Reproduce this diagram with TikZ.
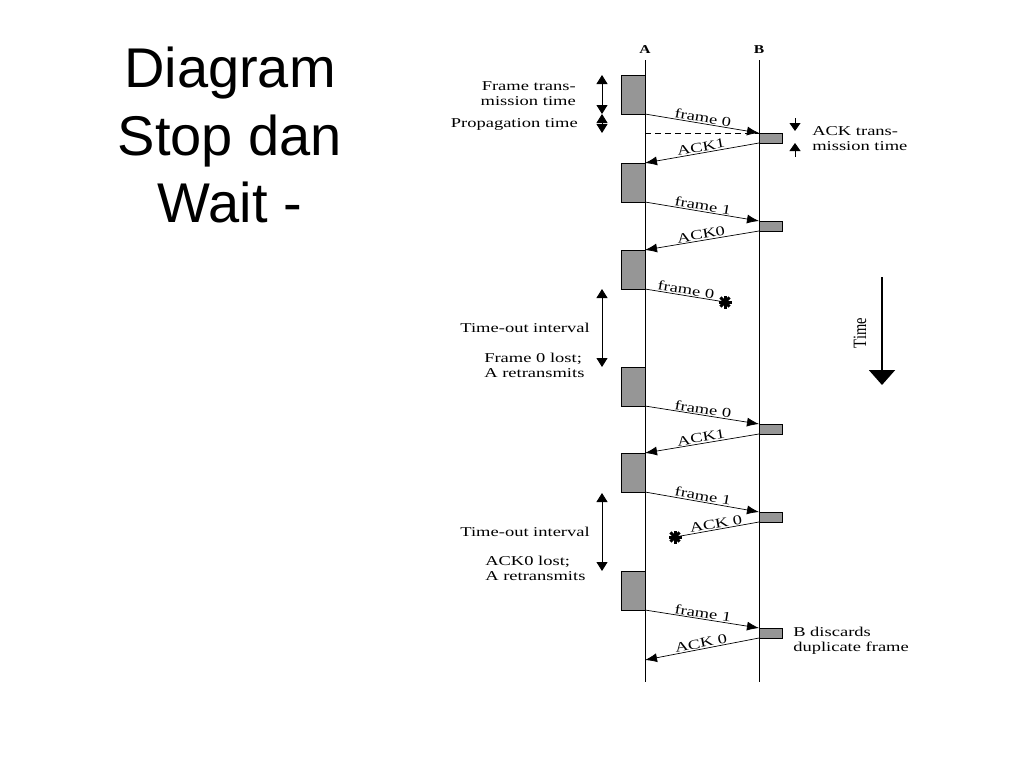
\documentclass[tikz,border=0pt]{standalone}
\usepackage{fontspec}
\setmainfont{Liberation Serif}
\newfontfamily\titlefont{Liberation Sans}
\usetikzlibrary{arrows.meta}
\definecolor{boxgray}{RGB}{150,150,150}
\begin{document}
\begin{tikzpicture}[x=1pt,y=-1pt,
  lbl/.style={font=\fontsize{13.5}{15}\selectfont, xscale=1.37, inner sep=0pt},
  hdr/.style={font=\fontsize{12}{14}\selectfont\bfseries, xscale=1.3, inner sep=0pt, anchor=base},
  ttl/.style={font=\titlefont\fontsize{56}{67}\selectfont, inner sep=0pt, anchor=base},
  fbox/.style={draw, fill=boxgray, line width=0.8pt, minimum width=24pt, minimum height=39pt, inner sep=0pt, outer sep=0pt, anchor=north east},
  abox/.style={draw, fill=boxgray, line width=0.8pt, minimum width=23pt, minimum height=10pt, inner sep=0pt, outer sep=0pt, anchor=north west},
  msg/.style={line width=0.7pt, -{Latex[length=12pt,width=9pt]}},
  lostmsg/.style={line width=0.7pt},
  dim/.style={line width=0.9pt, {Triangle[length=9pt,width=11pt]}-{Triangle[length=9pt,width=11pt]}},
  tick/.style={line width=0.9pt, -{Triangle[length=8pt,width=11pt]}},
  lifeline/.style={line width=1pt},
  mlbl/.style={lbl, sloped, above, inner sep=1pt, midway},
  star/.style={line width=3pt},
]
\useasboundingbox (0,0) rectangle (1024,768);

% title
\node[ttl] (title1) at (230,87) {Diagram};
\node[ttl] (title2) at (230,155) {Stop dan};
\node[ttl] (title3) at (230,222) {Wait -};

% lifelines
\coordinate (Atop) at (645,60); \coordinate (Abot) at (645,682);
\coordinate (Btop) at (759,60); \coordinate (Bbot) at (759,682);
\draw[lifeline] (Atop) -- (Abot);
\draw[lifeline] (Btop) -- (Bbot);
\node[hdr] (hA) at (645,53) {A};
\node[hdr] (hB) at (759,53) {B};

% frame boxes at A
\node[fbox] (f1) at (645,75) {};
\node[fbox] (f2) at (645,163) {};
\node[fbox] (f3) at (645,250) {};
\node[fbox] (f4) at (645,367) {};
\node[fbox] (f5) at (645,453) {};
\node[fbox] (f6) at (645,571) {};

% ack boxes at B
\node[abox] (a1) at (759,133) {};
\node[abox] (a2) at (759,221) {};
\node[abox] (a3) at (759,424) {};
\node[abox] (a4) at (759,512) {};
\node[abox] (a5) at (759,628) {};

% loss points and end point
\coordinate (s1) at (725,302);
\coordinate (s2) at (675,537);
\coordinate (e6) at (645,660);

% messages
\draw[msg] (f1.south east) -- node[mlbl] {frame 0} (a1.north west);
\draw[msg] (a1.south west) -- node[mlbl] {ACK1} (f2.north east);
\draw[msg] (f2.south east) -- node[mlbl] {frame 1} (a2.north west);
\draw[msg] (a2.south west) -- node[mlbl] {ACK0} (f3.north east);
\draw[lostmsg] (f3.south east) -- node[mlbl] {frame 0} (s1);
\draw[msg] (f4.south east) -- node[mlbl] {frame 0} (a3.north west);
\draw[msg] (a3.south west) -- node[mlbl] {ACK1} (f5.north east);
\draw[msg] (f5.south east) -- node[mlbl] {frame 1} (a4.north west);
\draw[lostmsg] (a4.south west) -- node[mlbl] {ACK 0} (s2);
\draw[msg] (f6.south east) -- node[mlbl] {frame 1} (a5.north west);
\draw[msg] (a5.south west) -- node[mlbl] {ACK 0} (e6);

% loss asterisks
\foreach \a in {0,45,90,135} {
  \draw[star, shift={(s1)}] (\a:6.5) -- (\a+180:6.5);
  \draw[star, shift={(s2)}] (\a:6.5) -- (\a+180:6.5);
}
\fill (s1) circle (3.5pt);
\fill (s2) circle (3.5pt);

% dashed propagation reference
\draw[line width=0.7pt, dash pattern=on 6pt off 4pt] (Atop |- a1.north west) -- (a1.north west);

% timing dimension arrows
\coordinate (t1) at (602,75); \coordinate (t2) at (602,114); \coordinate (t3) at (602,133);
\draw[dim] (t1) -- (t2);
\draw[dim] (t2) -- (t3);
\coordinate (to1a) at (602,289); \coordinate (to1b) at (602,367);
\draw[dim] (to1a) -- (to1b);
\coordinate (to2a) at (602,493); \coordinate (to2b) at (602,571);
\draw[dim] (to2a) -- (to2b);

% ACK transmission time ticks
\coordinate (k1) at (795,118); \coordinate (k2) at (795,131);
\coordinate (k3) at (795,157); \coordinate (k4) at (795,143);
\draw[tick] (k1) -- (k2);
\draw[tick] (k3) -- (k4);

% labels (base anchor = last line baseline)
\node[lbl, align=right, anchor=base east] (L1) at (576,105) {Frame trans-\\mission time};
\node[lbl, anchor=base east] (L2) at (578,127) {Propagation time};
\node[lbl, anchor=base east] (L3) at (590,332) {Time-out interval};
\node[lbl, align=left, anchor=base west] (L4) at (484,377) {Frame 0 lost;\\A retransmits};
\node[lbl, anchor=base east] (L5) at (590,536) {Time-out interval};
\node[lbl, align=left, anchor=base west] (L6) at (485,580) {ACK0 lost;\\A retransmits};
\node[lbl, align=left, anchor=base west] (L7) at (812,150) {ACK trans-\\mission time};
\node[lbl, align=left, anchor=base west] (L8) at (793,651) {B discards\\duplicate frame};

% time arrow
\coordinate (tm1) at (882,277); \coordinate (tm2) at (882,385);
\draw[line width=2pt, -{Triangle[length=15pt,width=26pt]}] (tm1) -- (tm2);
\node[font=\fontsize{14.5}{16}\selectfont, inner sep=0pt] (tmlbl) at (860,333) {\rotatebox{90}{\scalebox{1}[1.3]{Time}}};
\end{tikzpicture}
\end{document}
